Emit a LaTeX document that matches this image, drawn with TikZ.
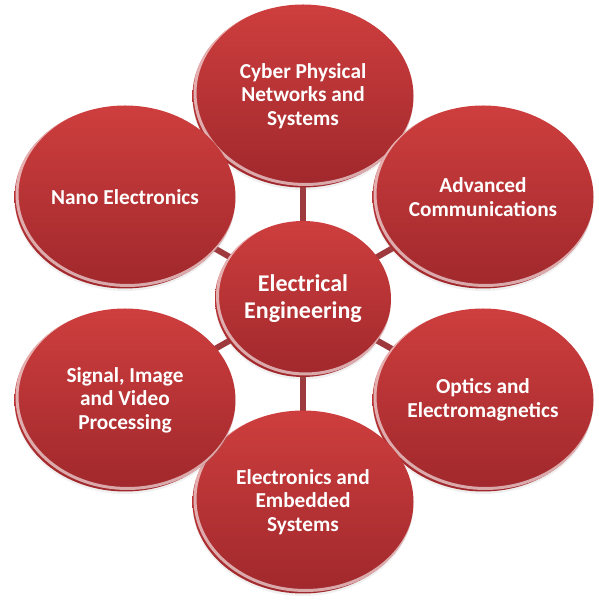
\documentclass[tikz,border=0pt]{standalone}
\usepackage{fontspec}
\setmainfont{Carlito}
\usetikzlibrary{shapes,shadows,backgrounds,calc}
\definecolor{ballred}{RGB}{206,62,62}
\definecolor{balldark}{RGB}{160,40,44}
\definecolor{stem}{RGB}{158,58,62}
\tikzstyle{shine}=[path picture={
    \draw[white,opacity=.6,line width=3pt]
    let \p1=(path picture bounding box.north east),
        \p2=(path picture bounding box.south west) in
    ([shift={(2.5pt,3pt)}]path picture bounding box.center)
    ellipse [x radius={(\x1-\x2)/2}, y radius={(\y1-\y2)/2}];}]
\tikzstyle{ball}=[ellipse, inner sep=0pt, minimum width=221pt, minimum height=183pt,
    top color=ballred, bottom color=balldark, text=white, align=center,
    font=\fontsize{21.3}{23.5}\selectfont\bfseries, shine,
    drop shadow={opacity=.12,shadow xshift=0pt,shadow yshift=-2.5pt}]
\tikzstyle{hub}=[ball, minimum width=176pt, minimum height=156pt,
    font=\fontsize{24}{27}\selectfont\bfseries]
\tikzstyle{spoke}=[stem, line width=6pt]

\begin{document}
\begin{tikzpicture}[x=1pt,y=1pt]
    \useasboundingbox (0,0) rectangle (598,609);

    % Centre
    \draw (303,310) node[hub] (ee) {Electrical\\Engineering};

    % Fields
    \draw (303,513) node[ball] (cps) {Cyber Physical\\Networks and\\Systems};
    \draw (483,412) node[ball] (com) {Advanced\\Communications};
    \draw (483,209) node[ball] (opt) {Optics and\\Electromagnetics};
    \draw (303,107) node[ball] (emb) {Electronics and\\Embedded\\Systems};
    \draw (125,209) node[ball] (sig) {Signal, Image\\and Video\\Processing};
    \draw (125,412) node[ball] (nano) {Nano Electronics};

    % Spokes
    \begin{scope}[on background layer]
    \foreach \n in {cps,com,opt,emb,sig,nano}
        \draw[spoke] (ee.center) -- (\n.center);
    \end{scope}

\end{tikzpicture}
\end{document}
